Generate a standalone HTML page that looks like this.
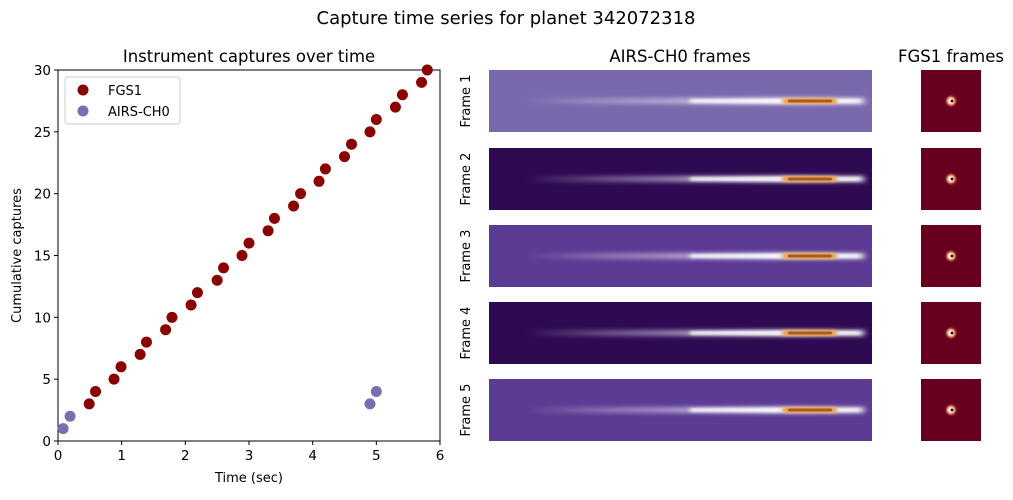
<!DOCTYPE html>
<html><head><meta charset="utf-8"><style>
body{margin:0;background:#fff;width:1013px;height:495px;overflow:hidden}
svg{font-family:"DejaVu Sans","Liberation Sans",sans-serif}
</style></head><body>
<svg id="fig" width="1013" height="495" xmlns="http://www.w3.org/2000/svg">
<defs>
<filter id="blur3" x="-20%" y="-200%" width="140%" height="500%"><feGaussianBlur stdDeviation="3 2"/></filter>
<filter id="blur1" x="-20%" y="-200%" width="140%" height="500%"><feGaussianBlur stdDeviation="2 1.2"/></filter>
<linearGradient id="streak" x1="0" x2="1">
<stop offset="0" stop-color="#fff" stop-opacity="0"/><stop offset="0.4" stop-color="#ddd6ee" stop-opacity="0.55"/><stop offset="0.75" stop-color="#fff" stop-opacity="0.95"/><stop offset="1" stop-color="#fff" stop-opacity="0.7"/></linearGradient>
<radialGradient id="star"><stop offset="0" stop-color="#fff"/><stop offset="0.3" stop-color="#fff"/><stop offset="0.55" stop-color="#f08050"/><stop offset="1" stop-color="#67001f" stop-opacity="0"/></radialGradient>
</defs>
<text x="506" y="24" text-anchor="middle" font-size="18">Capture time series for planet 342072318</text>
<text x="249" y="62" text-anchor="middle" font-size="16.5">Instrument captures over time</text>
<text x="680" y="62" text-anchor="middle" font-size="16.5">AIRS-CH0 frames</text>
<text x="951" y="62" text-anchor="middle" font-size="16.5">FGS1 frames</text>
<g id="plot"></g>
<g id="frames"></g>
</svg>
<script>
const fgsT=[0.49,0.59,0.88,0.99,1.29,1.39,1.69,1.79,2.09,2.19,2.50,2.60,2.89,3.00,3.30,3.40,3.70,3.81,4.10,4.20,4.50,4.61,4.90,5.00,5.30,5.41,5.71,5.80];
const fgsY=[3,4,5,6,7,8,9,10,11,12,13,14,15,16,17,18,19,20,21,22,23,24,25,26,27,28,29,30];
const airsT=[0.08,0.19,4.90,5.00];
const airsY=[1,2,3,4];
const xTicks=[0,1,2,3,4,5,6];
const yTicks=[0,5,10,15,20,25,30];
const frameLabels=["Frame 1","Frame 2","Frame 3","Frame 4","Frame 5"];
const frameBg=["#7a68ad","#2e0a52","#5b3b93","#2e0a52","#5b3b93"];

const NS="http://www.w3.org/2000/svg";
const L=58,R=440,T=70,B=441;
const xs=v=>L+(v-0)/(6-0)*(R-L);
const ys=v=>B-(v-0)/(30-0)*(B-T);
function mk(tag,attrs,parent){const e=document.createElementNS(NS,tag);for(const k in attrs)e.setAttribute(k,attrs[k]);parent.appendChild(e);return e;}
const g=document.getElementById('plot');
const bg=mk('rect',{x:L,y:T,width:R-L,height:B-T,fill:'#fff',stroke:'#000','stroke-width':1},g);


xTicks.forEach(t=>{
  const l=mk('line',{x1:xs(t),x2:xs(t),y1:B,y2:B+4,stroke:'#000'},g);
  
  
  const tx=mk('text',{x:xs(t),y:B+19,'text-anchor':'middle','font-size':13.5},g);tx.textContent=t;
  
  
});
yTicks.forEach(t=>{
  const l=mk('line',{x1:L-4,x2:L,y1:ys(t),y2:ys(t),stroke:'#000'},g);
  
  
  const tx=mk('text',{x:L-7,y:ys(t)+5,'text-anchor':'end','font-size':13.5},g);tx.textContent=t;
  
  
});
const xt=mk('text',{x:(L+R)/2,y:482,'text-anchor':'middle','font-size':13},g);xt.textContent='Time (sec)';


const yt=mk('text',{x:21,y:(T+B)/2,'text-anchor':'middle','font-size':13,transform:`rotate(-90 21 ${(T+B)/2})`},g);yt.textContent='Cumulative captures';


fgsT.forEach((t,i)=>{
  const c=mk('circle',{cx:xs(t),cy:ys(fgsY[i]),r:5.5,fill:'#8b0000'},g);
  
  
});
airsT.forEach((t,i)=>{
  const c=mk('circle',{cx:xs(t),cy:ys(airsY[i]),r:5.5,fill:'#7570b3'},g);
  
  
});
const lg=mk('g',{},g);


mk('rect',{x:65,y:77,width:115,height:47,rx:3,fill:'#fff',stroke:'#ccc'},lg);
mk('circle',{cx:83,cy:90,r:5.5,fill:'#8b0000'},lg);
mk('circle',{cx:83,cy:111,r:5.5,fill:'#7570b3'},lg);
const t1=mk('text',{x:108,y:95,'font-size':13},lg);t1.textContent='FGS1';


const t2=mk('text',{x:108,y:116,'font-size':13},lg);t2.textContent='AIRS-CH0';



const fg=document.getElementById('frames');
const rowsY=[70,148,225,302,379];
frameLabels.forEach((lab,i)=>{
  const y0=rowsY[i],h=62,cy=y0+31;
  const a=mk('g',{},fg);
  
  
  mk('rect',{x:489,y:y0,width:383,height:h,fill:frameBg[i]},a);
  mk('rect',{x:525,y:cy-3,width:340,height:6,fill:'url(#streak)',filter:'url(#blur3)'},a);
  mk('rect',{x:690,y:cy-2,width:170,height:4,fill:'#fff',opacity:0.85,filter:'url(#blur1)'},a);
  mk('rect',{x:782,y:cy-3,width:55,height:6,rx:3,fill:'#e8a050',filter:'url(#blur1)'},a);
  mk('rect',{x:788,y:cy-1.5,width:44,height:3,rx:1.5,fill:'#9c4a08',opacity:0.8},a);
  const tl=mk('text',{x:470,y:cy,'text-anchor':'middle','font-size':13,transform:`rotate(-90 470 ${cy})`},fg);tl.textContent=lab;
  
  
  const f=mk('g',{},fg);
  
  
  mk('rect',{x:921,y:y0,width:60,height:h,fill:'#67001f'},f);
  mk('circle',{cx:951,cy:cy,r:7,fill:'url(#star)'},f);
  mk('circle',{cx:952,cy:cy,r:1.5,fill:'#400010'},f);
});
</script>
</body></html>
